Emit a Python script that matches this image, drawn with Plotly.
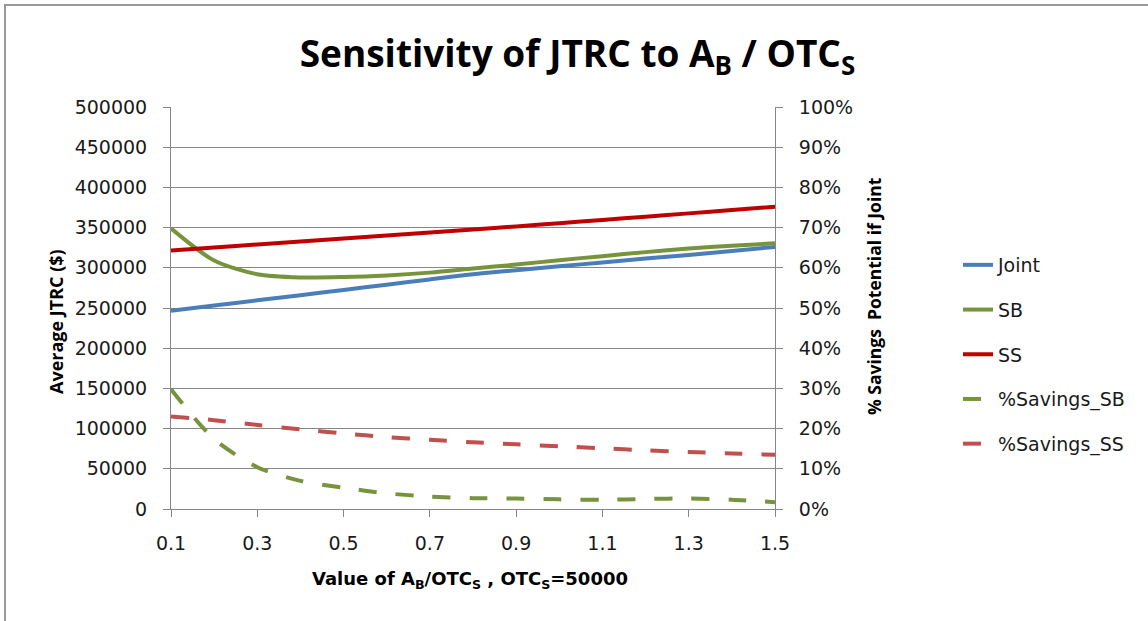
import plotly.graph_objects as go

# A_B / OTC_S ratio values (x axis)
ratio = [0.1, 0.2, 0.3, 0.4, 0.5, 0.6, 0.7, 0.8, 0.9, 1.0, 1.1, 1.2, 1.3, 1.4, 1.5]

# Average JTRC ($) per policy
joint = [246500, 253000, 259500, 266000, 272500, 279000, 285500, 292000,
         297000, 302000, 306500, 311500, 316000, 321000, 326000]
sb = [349000, 309000, 292000, 288000, 288500, 290500, 294000, 299000,
      304000, 309500, 314500, 319500, 324000, 327500, 330500]
ss = [321500, 325200, 329000, 332700, 336400, 340100, 343800, 347600,
      351500, 355500, 359500, 363600, 367700, 371800, 376000]

# % savings potential if joint (right axis)
pct_sb = [0.298, 0.174, 0.104, 0.070, 0.053, 0.039, 0.031, 0.027,
          0.026, 0.024, 0.023, 0.025, 0.026, 0.023, 0.017]
pct_ss = [0.230, 0.221, 0.209, 0.198, 0.188, 0.179, 0.172, 0.166,
          0.161, 0.156, 0.151, 0.146, 0.142, 0.138, 0.135]

x_ticks = [0.1, 0.3, 0.5, 0.7, 0.9, 1.1, 1.3, 1.5]
x_tick_text = ["0.1", "0.3", "0.5", "0.7", "0.9", "1.1", "1.3", "1.5"]
y_ticks = [0, 50000, 100000, 150000, 200000, 250000, 300000, 350000, 400000, 450000, 500000]
y2_ticks = [i / 10 for i in range(11)]

TITLE_FONT = "Open Sans"
TEXT_FONT = "DejaVu Sans"
BLUE = "#4A7EBB"
GREEN = "#77933C"
RED = "#C00000"
LIGHT_RED = "#C0504D"
DASH = "18px,19px"

fig = go.Figure()

series = [
    ("Joint", joint, BLUE, "solid", "y"),
    ("SB", sb, GREEN, "solid", "y"),
    ("SS", ss, RED, "solid", "y"),
    ("%Savings_SB", pct_sb, GREEN, DASH, "y2"),
    ("%Savings_SS", pct_ss, LIGHT_RED, DASH, "y2"),
]
for name, vals, color, dash, axis in series:
    fig.add_trace(go.Scatter(
        x=ratio, y=vals, name=name, mode="lines", yaxis=axis,
        legendgroup=name,
        line=dict(color=color, width=4, dash=dash, shape="spline", smoothing=0.8),
    ))

# Plot area: left 171px, right 775px, top 107px, bottom 509px
L, R, T, B = 171, 775, 107, 509
W, H = 1148, 621
pw, ph = R - L, B - T


def px_x(px):
    return (px - L) / pw


def px_y(py):
    return (B - py) / ph


axis_font = dict(family=TEXT_FONT, size=19, color="#1a1a1a")

fig.update_layout(
    width=W, height=H,
    margin=dict(l=L, r=W - R, t=T, b=H - B, pad=0),
    paper_bgcolor="white", plot_bgcolor="white",
    showlegend=True,
    legend=dict(
        x=px_x(958), xanchor="left", y=px_y(246), yanchor="top",
        font=dict(family=TEXT_FONT, size=19, color="#1a1a1a"),
        tracegroupgap=17, bgcolor="rgba(0,0,0,0)",
    ),
    title=dict(
        text="Sensitivity of JTRC to A<sub>B</sub> / OTC<sub>S</sub>",
        font=dict(family=TITLE_FONT, size=37, color="black", weight="bold"),
        xref="container", x=0.503, xanchor="center",
        yref="container", y=1 - 54 / H, yanchor="middle",
    ),
    xaxis=dict(
        range=[0.1, 1.5], tickvals=x_ticks, ticktext=x_tick_text,
        showgrid=False, zeroline=False,
        showline=True, linecolor="#868686", linewidth=1,
        ticks="outside", ticklen=7, tickcolor="#868686",
        tickfont=axis_font, ticklabelstandoff=10,
    ),
    yaxis=dict(
        range=[0, 500000], tickvals=y_ticks, tickformat="d",
        showgrid=True, gridcolor="#868686", gridwidth=1, zeroline=False,
        showline=True, linecolor="#868686", linewidth=1,
        ticks="outside", ticklen=7, tickcolor="#868686",
        tickfont=axis_font, ticklabelstandoff=12,
    ),
    yaxis2=dict(
        range=[0, 1], tickvals=y2_ticks, tickformat=".0%",
        overlaying="y", side="right", anchor="x",
        showgrid=False, zeroline=False,
        showline=True, linecolor="#868686", linewidth=1,
        ticks="outside", ticklen=7, tickcolor="#868686",
        tickfont=axis_font, ticklabelstandoff=12,
    ),
)

fig.add_annotation(
    text="Average JTRC ($)", textangle=-90,
    font=dict(family=TITLE_FONT, size=18, color="black", weight="bold"),
    xref="paper", yref="paper", x=px_x(56), y=px_y(322),
    xanchor="center", yanchor="middle", showarrow=False,
)
fig.add_annotation(
    text="% Savings  Potential if Joint", textangle=-90,
    font=dict(family=TITLE_FONT, size=17.5, color="black", weight="bold"),
    xref="paper", yref="paper", x=px_x(874), y=px_y(296),
    xanchor="center", yanchor="middle", showarrow=False,
)
fig.add_annotation(
    text="Value of A<sub>B</sub>/OTC<sub>S</sub> , OTC<sub>S</sub>=50000",
    font=dict(family=TEXT_FONT, size=18, color="black", weight="bold"),
    xref="paper", yref="paper", x=px_x(470), y=px_y(580),
    xanchor="center", yanchor="middle", showarrow=False,
)

# Chart area border
fig.add_shape(
    type="rect", xref="paper", yref="paper",
    x0=px_x(5), x1=px_x(W + 20), y0=px_y(5), y1=px_y(H + 20),
    line=dict(color="#9a9a9a", width=2), layer="below",
)

fig.write_html("out.html")
